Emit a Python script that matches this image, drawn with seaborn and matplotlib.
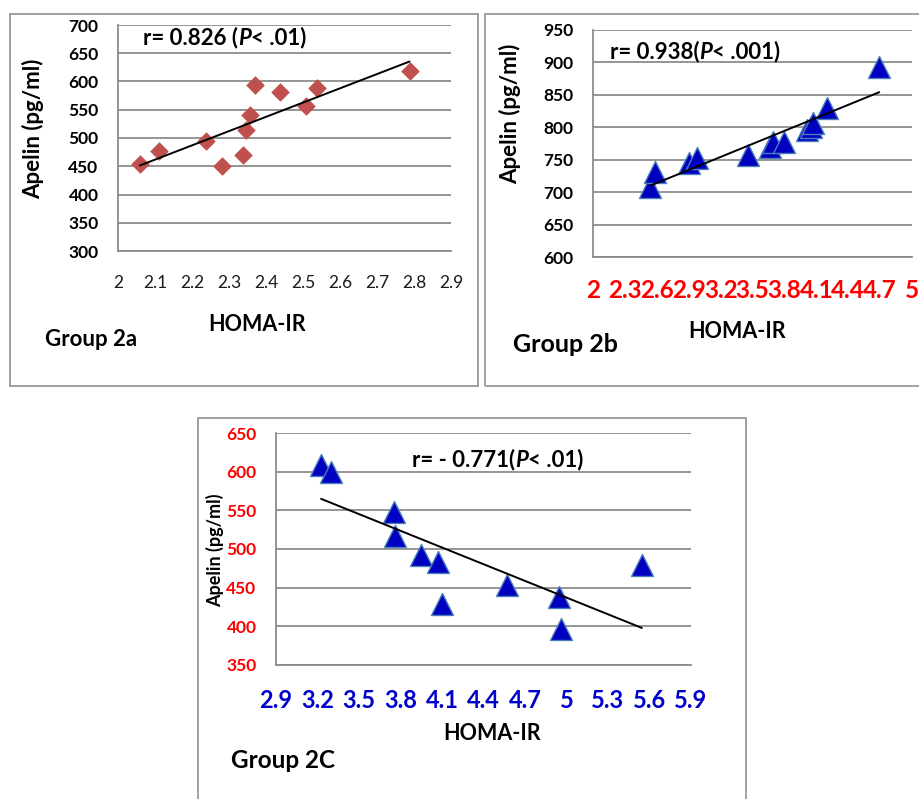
import numpy as np
import pandas as pd
import matplotlib
matplotlib.use("Agg")
import matplotlib.pyplot as plt
import seaborn as sns
from matplotlib.patches import Rectangle
from matplotlib.offsetbox import TextArea, HPacker, AnnotationBbox

# ---------------- data ----------------
homa_2a = [2.059, 2.110, 2.239, 2.280, 2.339, 2.347, 2.358, 2.370, 2.438, 2.508, 2.539, 2.788]
apelin_2a = [454, 477, 495, 450, 470, 515, 541, 594, 582, 556, 589, 619]

homa_2b = [2.540, 2.587, 2.905, 2.980, 3.454, 3.665, 3.690, 3.797, 4.010, 4.050, 4.073, 4.199, 4.692]
apelin_2b = [708, 731, 745, 752, 758, 769, 778, 778, 796, 800, 806, 829, 893]

homa_2c = [3.226, 3.298, 3.754, 3.761, 3.949, 4.070, 4.098, 4.569, 4.943, 4.962, 5.545]
apelin_2c = [608, 600, 548, 517, 492, 483, 429, 453, 438, 397, 479]

xticks_2a = [2, 2.1, 2.2, 2.3, 2.4, 2.5, 2.6, 2.7, 2.8, 2.9]
yticks_2a = [300, 350, 400, 450, 500, 550, 600, 650, 700]
xticks_2b = [2, 2.3, 2.6, 2.9, 3.2, 3.5, 3.8, 4.1, 4.4, 4.7, 5]
yticks_2b = [600, 650, 700, 750, 800, 850, 900, 950]
xticks_2c = [2.9, 3.2, 3.5, 3.8, 4.1, 4.4, 4.7, 5, 5.3, 5.6, 5.9]
yticks_2c = [350, 400, 450, 500, 550, 600, 650]

r_2a = ("r= 0.826 (", "P", "< .01)")
r_2b = ("r= 0.938(", "P", "< .001)")
r_2c = ("r= - 0.771(", "P", "< .01)")

# ---------------- style ----------------
sns.set_theme(style="white")
FONT = ["Lato", "DejaVu Sans"]
plt.rcParams["font.family"] = FONT
BW = "bold"

W, H = 920, 799
fig = plt.figure(figsize=(W / 100, H / 100), dpi=100)
fig.patch.set_facecolor("white")

def fx(x):
    return x / W

def fy(y):
    return 1 - y / H

def add_ax(l, t, r, b):
    return fig.add_axes([fx(l), fy(b), fx(r - l), (b - t) / H])

GRID = "#8C8C8C"

def style_ax(ax, xticks, yticks, xlim, ylim, xfmt, xcolor, xweight, xsize, ycolor, ysize, xpad, ypad):
    ax.set_xlim(*xlim)
    ax.set_ylim(*ylim)
    ax.set_xticks(xticks)
    ax.set_yticks(yticks)
    ax.set_xticklabels([xfmt(v) for v in xticks], color=xcolor, fontweight=xweight, fontsize=xsize, family=FONT)
    ax.set_yticklabels([str(v) for v in yticks], color=ycolor, fontweight=BW, fontsize=ysize, family=FONT)
    ax.tick_params(axis="both", length=0)
    ax.tick_params(axis="x", pad=xpad)
    ax.tick_params(axis="y", pad=ypad)
    for v in yticks:
        ax.axhline(v, color=GRID, lw=1.3, zorder=0.5)
    for s in ["top", "right"]:
        ax.spines[s].set_visible(False)
    for s in ["left", "bottom"]:
        ax.spines[s].set_color(GRID)
        ax.spines[s].set_linewidth(1.3)
    ax.set_xlabel("")
    ax.set_ylabel("")
    ax.set_facecolor("none")

def fmt(v):
    return ("%g" % v)

# panel borders
BORDER = "#9A9A9A"
for (l, t, r, b) in [(10, 14, 478, 386), (485, 14, 925, 386), (198, 418, 746, 805)]:
    fig.patches.append(Rectangle((fx(l), fy(b)), fx(r - l), (b - t) / H,
                                 transform=fig.transFigure, fill=False,
                                 edgecolor=BORDER, lw=1.3, zorder=0))

# ---------- Panel 2a ----------
ax1 = add_ax(118, 25, 451, 251)
df1 = pd.DataFrame({"HOMA": homa_2a, "Apelin": apelin_2a})
sns.scatterplot(data=df1, x="HOMA", y="Apelin", ax=ax1, marker="D", s=80,
                color="#C0504D", edgecolor="#C0504D", linewidth=0.5, zorder=3, legend=False)
sns.regplot(data=df1, x="HOMA", y="Apelin", ax=ax1, scatter=False, ci=None,
            line_kws=dict(color="black", lw=1.4, zorder=4))
style_ax(ax1, xticks_2a, yticks_2a, (2, 2.9), (300, 700), fmt, "#1a1a1a", "normal", 12.5,
         "black", 12.5, 17, 14)

# ---------- Panel 2b ----------
ax2 = add_ax(593, 30, 912, 257)
df2 = pd.DataFrame({"HOMA": homa_2b, "Apelin": apelin_2b})
sns.scatterplot(data=df2, x="HOMA", y="Apelin", ax=ax2, marker="^", s=250,
                color="#0000C0", edgecolor="#4A7EBB", linewidth=1.0, zorder=3, legend=False)
sns.regplot(data=df2, x="HOMA", y="Apelin", ax=ax2, scatter=False, ci=None,
            line_kws=dict(color="black", lw=1.4, zorder=4))
style_ax(ax2, xticks_2b, yticks_2b, (2, 5), (600, 950), fmt, "#FF0000", BW, 17.5,
         "black", 12.5, 16, 14)

# ---------- Panel 2C ----------
ax3 = add_ax(276, 433, 691, 665)
df3 = pd.DataFrame({"HOMA": homa_2c, "Apelin": apelin_2c})
sns.scatterplot(data=df3, x="HOMA", y="Apelin", ax=ax3, marker="^", s=250,
                color="#0000C0", edgecolor="#4A7EBB", linewidth=1.0, zorder=3, legend=False)
sns.regplot(data=df3, x="HOMA", y="Apelin", ax=ax3, scatter=False, ci=None,
            line_kws=dict(color="black", lw=1.4, zorder=4))
style_ax(ax3, xticks_2c, yticks_2c, (2.9, 5.9), (350, 650), fmt, "#0000CC", BW, 17,
         "#FF0000", 12.5, 17, 14)

# ---------- texts ----------
def rich_r(parts, x, y, size):
    a, p, b = parts
    kw = dict(fontweight=BW, fontsize=size, family=FONT, color="black")
    box = HPacker(children=[TextArea(a, textprops=kw),
                            TextArea(p, textprops=dict(kw, fontstyle="italic")),
                            TextArea(b, textprops=kw)], align="baseline", pad=0, sep=0)
    ab = AnnotationBbox(box, (fx(x), fy(y)), xycoords="figure fraction",
                        box_alignment=(0, 0.5), frameon=False, pad=0)
    fig.add_artist(ab)

rich_r(r_2a, 143, 38, 16)
rich_r(r_2b, 610, 52, 16)
rich_r(r_2c, 412, 460, 16)

def label(txt, x, y, size, rot=0, ha="center"):
    fig.text(fx(x), fy(y), txt, fontsize=size, fontweight=BW, rotation=rot,
             ha=ha, va="center", family=FONT, color="black")

label("Apelin (pg/ml)", 33, 129, 16, rot=90)
label("Apelin (pg/ml)", 510, 114, 16, rot=90)
label("Apelin (pg/ml)", 215, 550, 13, rot=90)

label("HOMA-IR", 257, 324, 15.5)
label("HOMA-IR", 737, 331, 15.5)
label("HOMA-IR", 492, 733, 15.5)

label("Group 2a", 45, 339, 16, ha="left")
label("Group 2b", 513, 345, 18, ha="left")
label("Group 2C", 231, 761, 17.5, ha="left")

fig.savefig("out.png", dpi=100, facecolor="white")
